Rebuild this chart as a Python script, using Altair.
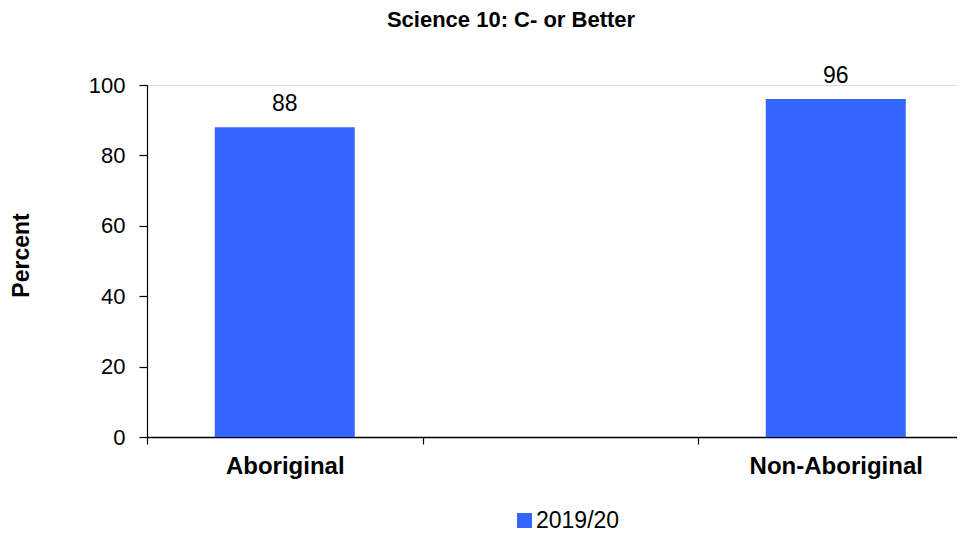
import altair as alt
import pandas as pd

categories = ["Aboriginal", "Non-Aboriginal"]
values = [88, 96]
series_name = "2019/20"
x_domain = ["Aboriginal", " ", "Non-Aboriginal"]
y_ticks = [0, 20, 40, 60, 80, 100]
title_text = "Science 10: C- or Better"
y_title = "Percent"
bar_color = "#3366FF"

df = pd.DataFrame({"group": categories, "pct": values, "series": [series_name] * len(categories)})

FONT = "Liberation Sans"

x_enc = alt.X(
    "group:N",
    sort=x_domain,
    scale=alt.Scale(domain=x_domain, range=[0, 826.5], paddingInner=0, paddingOuter=0),
    axis=alt.Axis(
        title=None, labelAngle=0, tickBand="extent", tickSize=7, tickColor="black",
        domainColor="black", domainWidth=1.5, tickWidth=1.2,
        labelFont=FONT, labelFontSize=24, labelFontWeight="bold", labelColor="black",
        labelPadding=10, labelBaseline="top",
    ),
)
y_enc = alt.Y(
    "pct:Q",
    scale=alt.Scale(domain=[0, 100], nice=False),
    axis=alt.Axis(
        values=y_ticks, grid=False, title=y_title, tickSize=8, tickColor="black",
        domainColor="black", domainWidth=1.2, tickWidth=1.2,
        labelFont=FONT, labelFontSize=22, labelColor="black", labelPadding=14,
        titleFont=FONT, titleFontSize=23, titleFontWeight="bold", titleColor="black",
        titleX=-119, titleY=170, titleAngle=-90, titleAlign="center", titleBaseline="alphabetic",
    ),
)

bars = alt.Chart(df).mark_bar(width=140).encode(
    x=x_enc,
    y=y_enc,
    color=alt.Color(
        "series:N",
        scale=alt.Scale(domain=[series_name], range=[bar_color]),
        legend=alt.Legend(
            title=None, orient="none", legendX=366, legendY=424, padding=0,
            symbolType="square", symbolSize=225, symbolStrokeWidth=0, symbolOpacity=1,
            labelFont=FONT, labelFontSize=23, labelColor="black", labelOffset=0,
        ),
    ),
)

labels = alt.Chart(df).mark_text(
    font=FONT, fontSize=23, color="black", dy=-16, baseline="alphabetic"
).encode(
    x=alt.X("group:N", sort=x_domain),
    y=alt.Y("pct:Q"),
    text=alt.Text("pct:Q"),
)

chart = alt.layer(bars, labels).properties(
    width=810,
    height=352,
    autosize=alt.AutoSizeParams(type="none"),
    padding={"left": 139, "top": 77, "right": 0, "bottom": 95},
    title=alt.TitleParams(
        text=title_text, font=FONT, fontSize=22, fontWeight="bold", color="black",
        anchor="middle", dx=-41, offset=33,
    ),
).configure_view(stroke=None).configure(background="white")

chart.save("out.html", embed_options={"renderer": "svg", "actions": False})
